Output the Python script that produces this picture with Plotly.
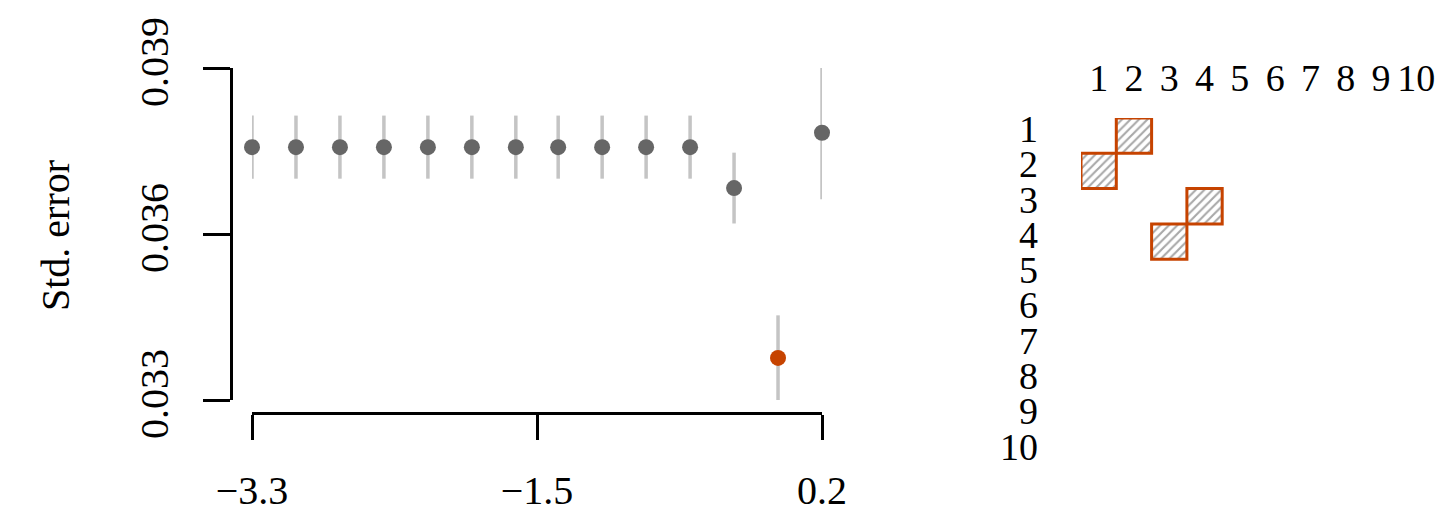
import plotly.graph_objects as go

# ---- data ----
log_lambda = [-3.3, -3.03, -2.76, -2.49, -2.22, -1.95, -1.68, -1.42, -1.15, -0.88, -0.61, -0.34, -0.07, 0.2]
std_error = [0.03757, 0.03757, 0.03757, 0.03757, 0.03757, 0.03757, 0.03757, 0.03757, 0.03757, 0.03757, 0.03757,
             0.03683, 0.03376, 0.03783]
se_spread = [0.00057, 0.00057, 0.00057, 0.00057, 0.00057, 0.00057, 0.00057, 0.00057, 0.00057, 0.00057, 0.00057,
             0.00064, 0.00077, 0.00120]
x_tickvals = [-3.3, -1.55, 0.2]
x_ticktext = ["\u22123.3", "\u22121.5", "0.2"]
y_tickvals = [0.033, 0.036, 0.039]
y_ticktext = ["0.033", "0.036", "0.039"]

# selected cells of the 10x10 grid
grid_labels = [1, 2, 3, 4, 5, 6, 7, 8, 9, 10]
sel_rows = [1, 2, 3, 4]
sel_cols = [2, 1, 4, 3]

# ---- style ----
W, H = 1456, 521
FONT = "Liberation Serif, Times New Roman, serif"
GRAY_PT = "#666666"
GRAY_BAR = "#C4C4C4"
ORANGE = "#C64300"

best = std_error.index(min(std_error))
colors = [ORANGE if i == best else GRAY_PT for i in range(len(std_error))]

def px_x(p):
    return p / W

def px_y(p):
    return (H - p) / H

fig = go.Figure()

fig.add_trace(go.Scatter(
    x=log_lambda, y=std_error, mode="markers",
    marker=dict(size=16, color=colors),
    error_y=dict(type="data", array=se_spread, visible=True, color=GRAY_BAR, thickness=3.5, width=0),
    cliponaxis=False, showlegend=False, xaxis="x", yaxis="y",
))

fig.add_trace(go.Bar(
    x=sel_cols, y=[1] * len(sel_rows), base=[r - 0.5 for r in sel_rows], width=1,
    marker=dict(color="white", line=dict(color=ORANGE, width=3),
                pattern=dict(shape="/", fgcolor="#A8A8A8", bgcolor="white", size=6, solidity=0.35)),
    showlegend=False, xaxis="x2", yaxis="y2",
))

# invisible trace so that the row-label axis is drawn
fig.add_trace(go.Scatter(
    x=sel_cols, y=sel_rows, mode="markers", marker=dict(opacity=0),
    hoverinfo="skip", showlegend=False, xaxis="x2", yaxis="y3",
))

grid_label_shift = 0.2  # row labels sit slightly above the row centres

fig.update_layout(
    template="none",
    width=W, height=H,
    margin=dict(l=0, r=0, t=0, b=0, autoexpand=False),
    paper_bgcolor="white", plot_bgcolor="white",
    font=dict(family=FONT, size=40, color="black"),
    xaxis=dict(
        domain=[px_x(252), px_x(822)], range=[-3.3, 0.2], automargin=False,
        anchor="free", position=px_y(413),
        showline=True, linecolor="black", linewidth=3,
        ticks="outside", ticklen=25, tickwidth=3, tickcolor="black",
        tickvals=x_tickvals, ticktext=x_ticktext, ticklabelstandoff=16,
        showgrid=False, zeroline=False,
    ),
    yaxis=dict(
        domain=[px_y(400), px_y(68)], range=[0.033, 0.039], automargin=False,
        anchor="free", position=px_x(231),
        showline=True, linecolor="black", linewidth=3,
        ticks="outside", ticklen=27, tickwidth=3, tickcolor="black",
        tickvals=y_tickvals, ticktext=y_ticktext, tickangle=-90, ticklabelstandoff=19,
        showgrid=False, zeroline=False,
    ),
    xaxis2=dict(
        domain=[px_x(1081), px_x(1434)], range=[0.5, 10.5], automargin=False,
        anchor="y2", side="top",
        tickvals=grid_labels, ticktext=[str(v) for v in grid_labels],
        tickfont=dict(size=38), ticklabelstandoff=18,
        showline=False, showgrid=False, zeroline=False, ticks="",
    ),
    yaxis2=dict(
        domain=[px_y(471), px_y(118)], range=[10.5, 0.5], automargin=False,
        anchor="x2", showticklabels=False,
        showline=False, showgrid=False, zeroline=False, ticks="",
    ),
    yaxis3=dict(
        domain=[px_y(471), px_y(118)],
        range=[10.5 + grid_label_shift, 0.5 + grid_label_shift], automargin=False,
        anchor="x2", overlaying="y2",
        tickvals=grid_labels, ticktext=[str(v) for v in grid_labels],
        tickfont=dict(size=38), ticklabelstandoff=42,
        showline=False, showgrid=False, zeroline=False, ticks="",
    ),
    annotations=[dict(
        text="Std. error", textangle=-90, xref="paper", yref="paper",
        x=px_x(55), y=px_y(236), xanchor="center", yanchor="middle",
        showarrow=False, font=dict(family=FONT, size=40),
    )],
)

fig.write_html("out.html", config={"displayModeBar": False},
               post_script="document.body.style.margin='0';")
